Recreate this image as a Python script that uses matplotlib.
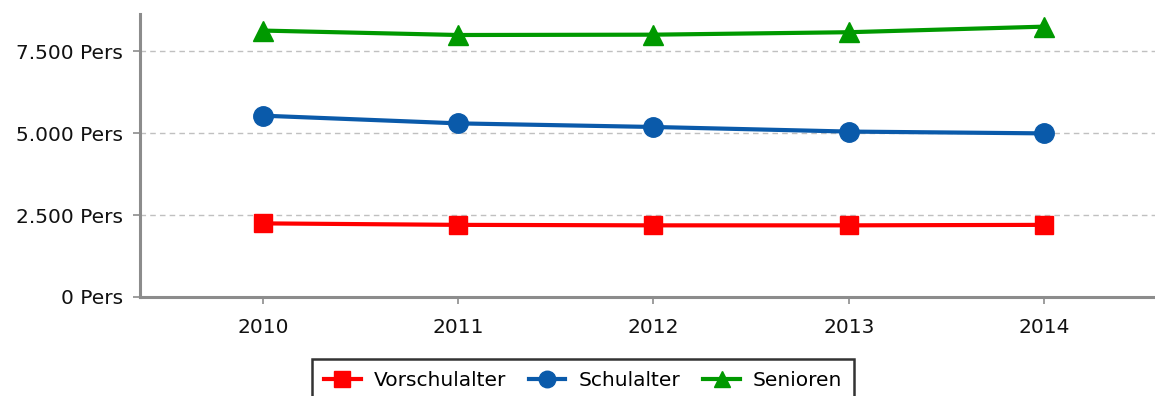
"""Altersgruppen 2010-2014: line chart with three series."""

import matplotlib

matplotlib.use("Agg")
import matplotlib.pyplot as plt
from matplotlib.ticker import FuncFormatter

plt.rcParams["font.family"] = ["DejaVu Sans"]

years = [2010, 2011, 2012, 2013, 2014]
vorschulalter = [2245, 2200, 2185, 2185, 2200]
schulalter = [5530, 5295, 5185, 5045, 4990]
senioren = [8125, 7990, 8000, 8075, 8245]

series = [
    ("Vorschulalter", vorschulalter, "#ff0000", "s", 13),
    ("Schulalter", schulalter, "#0a5aaa", "o", 14),
    ("Senioren", senioren, "#009900", "^", 14),
]


def pers_fmt(v, _pos):
    return f"{int(v):,}".replace(",", ".") + " Pers"


fig = plt.figure(figsize=(11.55, 3.96), dpi=100)
ax = fig.add_axes([0.1212, 0.25, 0.879, 0.7146])

handles = []
for name, vals, color, marker, ms in series:
    (h,) = ax.plot(years, vals, color=color, lw=3, marker=marker, markersize=ms,
                   label=name, zorder=4, solid_joinstyle="round")
    handles.append(h)

ax.set_xlim(2009.37, 2014.57)
ax.set_ylim(0, 8630)
ax.set_yticks([0, 2500, 5000, 7500])
ax.yaxis.set_major_formatter(FuncFormatter(pers_fmt))
ax.set_xticks(years)

ax.grid(axis="y", color="#c0c0c0", ls=(0, (4, 3)), lw=1)
ax.set_axisbelow(True)
for side in ("top", "right"):
    ax.spines[side].set_visible(False)
for side in ("left", "bottom"):
    ax.spines[side].set_color("#8c8c8c")
    ax.spines[side].set_linewidth(2.2)
ax.tick_params(axis="both", colors="#8c8c8c", length=5, width=1.2, labelsize=14.5,
               labelcolor="#111111")
ax.tick_params(axis="x", pad=10)
ax.tick_params(axis="y", pad=7)

# legend box runs off the bottom edge of the canvas
leg = fig.legend(handles=handles, loc="lower center", bbox_to_anchor=(0.505, -0.04),
                 ncol=3, frameon=True, fancybox=False, fontsize=14.5, handlelength=1.8,
                 columnspacing=1.15, handletextpad=0.65, borderpad=0.6, markerscale=0.85)
leg.get_frame().set_edgecolor("#000000")
leg.get_frame().set_linewidth(1.8)

fig.savefig("out.png", dpi=100)
